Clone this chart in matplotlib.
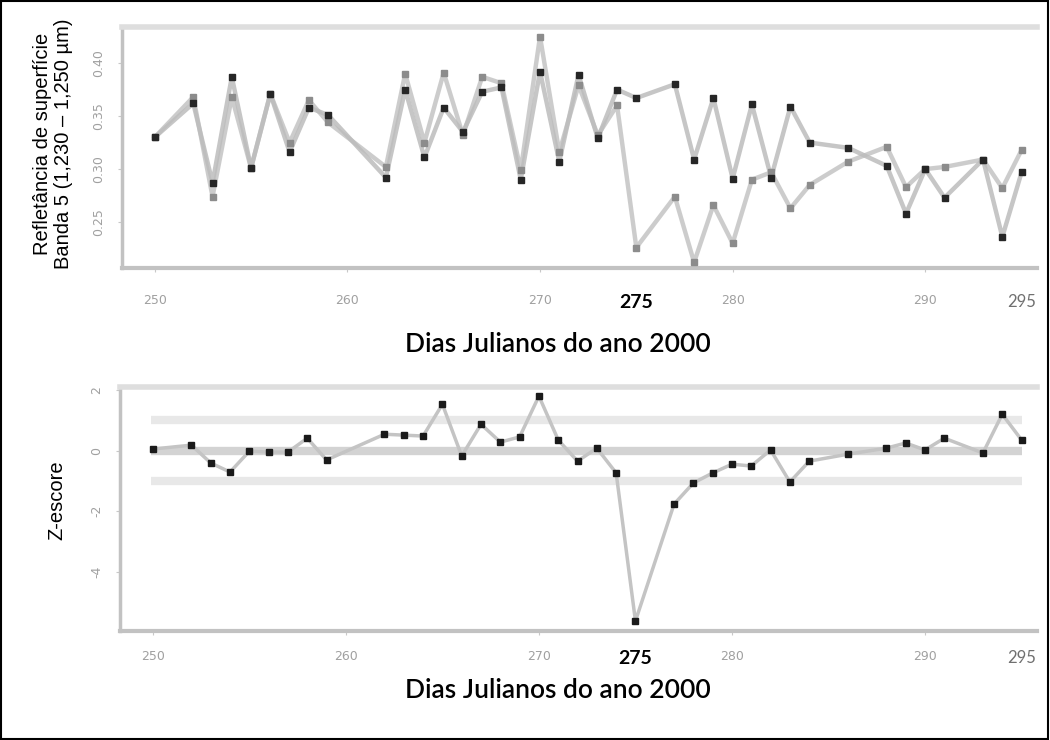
import matplotlib
matplotlib.use("Agg")
import matplotlib.pyplot as plt
from matplotlib.patches import Rectangle

# Julian days with observations
days = [250, 252, 253, 254, 255, 256, 257, 258, 259, 262, 263, 264, 265, 266,
        267, 268, 269, 270, 271, 272, 273, 274, 275, 277, 278, 279, 280, 281,
        282, 283, 284, 286, 288, 289, 290, 291, 293, 294, 295]

# reflectance, band 5 - series drawn with dark markers
refl_dark = [0.330, 0.362, 0.287, 0.387, 0.301, 0.371, 0.316, 0.358, 0.351,
             0.292, 0.375, 0.311, 0.358, 0.335, 0.373, 0.377, 0.290, 0.392,
             0.307, 0.389, 0.329, 0.375, 0.367, 0.380, 0.309, 0.367, 0.291,
             0.361, 0.292, 0.359, 0.325, 0.320, 0.303, 0.258, 0.300, 0.273,
             0.309, 0.236, 0.297]

# reflectance, band 5 - series drawn with grey markers
refl_grey = [0.330, 0.368, 0.274, 0.368, 0.301, 0.371, 0.325, 0.365, 0.344,
             0.302, 0.390, 0.325, 0.391, 0.332, 0.387, 0.381, 0.299, 0.425,
             0.316, 0.379, 0.332, 0.360, 0.226, 0.274, 0.212, 0.266, 0.230,
             0.290, 0.297, 0.263, 0.285, 0.307, 0.321, 0.283, 0.300, 0.302,
             0.309, 0.282, 0.318]

# Z-score per day
zscore = [0.05, 0.18, -0.41, -0.71, -0.02, -0.05, -0.05, 0.41, -0.31, 0.54,
          0.51, 0.48, 1.53, -0.18, 0.87, 0.28, 0.45, 1.80, 0.35, -0.35, 0.08,
          -0.74, -5.63, -1.77, -1.07, -0.74, -0.45, -0.51, 0.02, -1.04, -0.35,
          -0.12, 0.08, 0.25, 0.02, 0.41, -0.08, 1.20, 0.35]

z_limits = [-1, 0, 1]

x_ticks = [250, 260, 270, 275, 280, 290, 295]
x_ticklabels = ["250", "260", "270", "275", "280", "290", "295"]
refl_ticks = [0.25, 0.30, 0.35, 0.40]
refl_ticklabels = ["0.25", "0.30", "0.35", "0.40"]
z_ticks = [2, 0, -2, -4]
z_ticklabels = ["2", "0", "-2", "-4"]

xlabel = "Dias Julianos do ano 2000"
ylabel_top = "Refletância de superfície\nBanda 5 (1,230 – 1,250 µm)"
ylabel_bottom = "Z-escore"

W, H = 1050, 740
fig = plt.figure(figsize=(W / 100, H / 100), dpi=100)


def px_axes(left, top, right, bottom):
    return fig.add_axes([left / W, 1 - bottom / H, (right - left) / W, (bottom - top) / H])


def style_axes(ax, yticks, yticklabels, xpad):
    ax.spines["right"].set_visible(False)
    ax.spines["top"].set_color("#dedede")
    ax.spines["top"].set_linewidth(4)
    ax.spines["left"].set_color("#c2c2c2")
    ax.spines["left"].set_linewidth(2.5)
    ax.spines["bottom"].set_color("#c2c2c2")
    ax.spines["bottom"].set_linewidth(3)
    ax.set_xlim(248.3, 295.8)
    ax.set_xticks(x_ticks)
    ax.set_xticklabels(x_ticklabels)
    ax.set_yticks(yticks)
    ax.set_yticklabels(yticklabels, rotation=90, va="center")
    ax.tick_params(axis="both", direction="out", length=3, color="#c8c8c8",
                   labelcolor="#a0a0a0", labelsize=9)
    ax.tick_params(axis="x", pad=xpad)
    ax.tick_params(axis="y", pad=9)
    for tick, lab in zip(ax.xaxis.get_major_ticks(), x_ticklabels):
        if lab == "275":
            tick.tick1line.set_visible(False)
            tick.label1.set_fontsize(14)
            tick.label1.set_fontweight("bold")
            tick.label1.set_color("black")
            tick.label1.set_family(["Lato", "DejaVu Sans"])
        elif lab == "295":
            tick.tick1line.set_visible(False)
            tick.label1.set_fontsize(12)
            tick.label1.set_color("#707070")
            tick.label1.set_family(["Lato", "DejaVu Sans"])


# top panel: reflectance
ax1 = px_axes(122, 27, 1037, 268)
ax1.plot(days, refl_grey, color="#c4c4c4", lw=3.2, alpha=0.85, zorder=2)
ax1.plot(days, refl_dark, color="#bcbcbc", lw=3.2, alpha=0.85, zorder=2)
ax1.plot(days, refl_grey, ls="none", marker="s", ms=4.0, color="#8c8c8c", zorder=3)
ax1.plot(days, refl_dark, ls="none", marker="s", ms=4.0, color="#262626", zorder=4)
ax1.set_ylim(0.2067, 0.434)
style_axes(ax1, refl_ticks, refl_ticklabels, 16)

# bottom panel: Z-score
ax2 = px_axes(120, 387, 1037, 631)
for lim in z_limits:
    ax2.hlines(lim, 249.9, 295.0, color="#d3d3d3" if lim == 0 else "#e8e8e8",
               lw=6, zorder=1)
ax2.plot(days, zscore, color="#c4c4c4", lw=2.5, zorder=2)
ax2.plot(days, zscore, ls="none", marker="s", ms=4.0, color="#1a1a1a", zorder=3)
ax2.set_ylim(-5.96, 2.10)
style_axes(ax2, z_ticks, z_ticklabels, 11)

label_font = ["Lato", "DejaVu Sans"]
fig.text(558 / W, 1 - 345 / H, xlabel, ha="center", va="center",
         fontsize=19, fontweight="semibold", family=label_font)
fig.text(558 / W, 1 - 690 / H, xlabel, ha="center", va="center",
         fontsize=19, fontweight="semibold", family=label_font)
fig.text(53 / W, 1 - 144 / H, ylabel_top, ha="center", va="center", rotation=90,
         fontsize=14.5, family=["Liberation Sans", "DejaVu Sans"], linespacing=1.1)
fig.text(57 / W, 1 - 500 / H, ylabel_bottom, ha="center", va="center", rotation=90,
         fontsize=14.5, family=["Liberation Sans", "DejaVu Sans"])

fig.patches.append(Rectangle((0.001, 0.001), 0.997, 0.997, transform=fig.transFigure,
                             fill=False, edgecolor="black", lw=1.5))

fig.savefig("out.png", dpi=100)
